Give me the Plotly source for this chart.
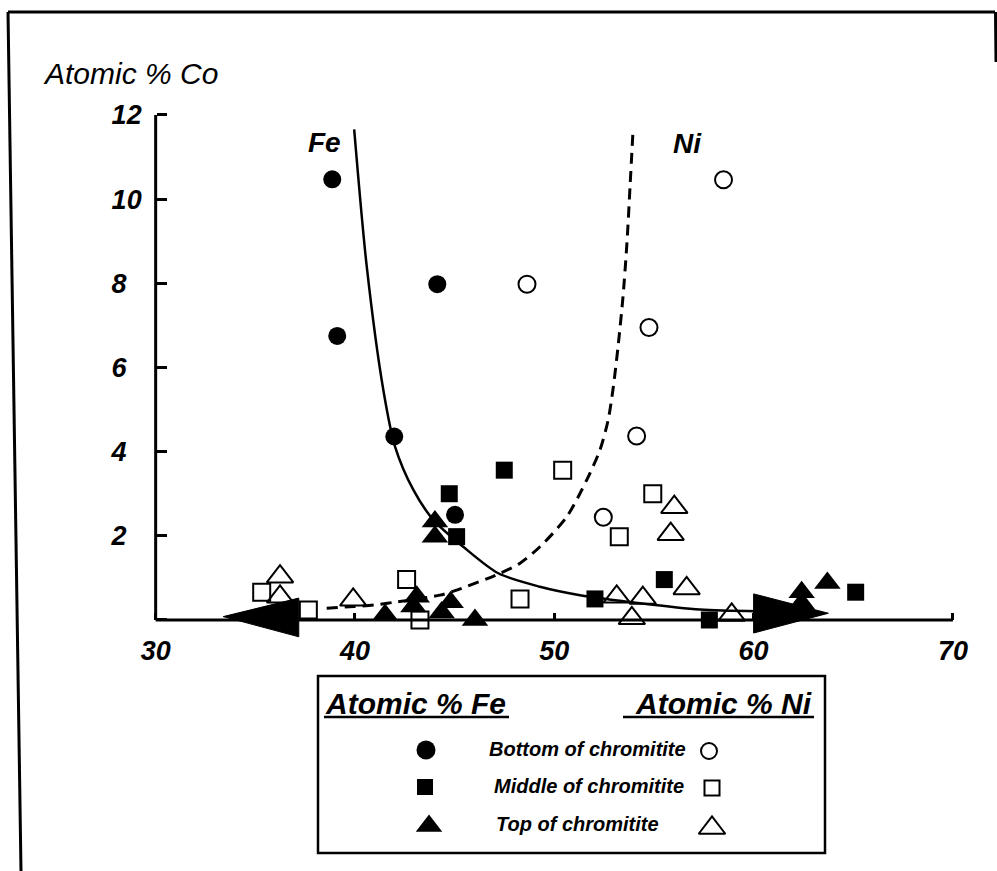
import plotly.graph_objects as go

W, H = 997, 871

# ---- Atomic % Co against atomic % Fe (filled) and atomic % Ni (open) ----
bottom_fe_x = [38.86, 39.11, 44.13, 41.97, 45.02]
bottom_fe_co = [10.47, 6.75, 7.98, 4.36, 2.50]
bottom_ni_x = [58.49, 48.63, 54.75, 54.13, 52.46]
bottom_ni_co = [10.46, 7.98, 6.95, 4.37, 2.44]

middle_fe_x = [44.73, 45.10, 47.49, 52.04, 55.52, 57.78, 65.12]
middle_fe_co = [3.00, 1.98, 3.56, 0.50, 0.96, 0.00, 0.66]
middle_ni_x = [54.94, 53.26, 50.42, 48.28, 42.59, 43.26, 35.32, 37.66]
middle_ni_co = [3.00, 1.98, 3.56, 0.50, 0.96, 0.00, 0.66, 0.24]

top_fe_x = [44.01, 44.01, 41.51, 43.10, 42.93, 44.35, 44.80, 46.02, 62.41, 62.41, 63.70]
top_fe_co = [2.34, 1.98, 0.12, 0.55, 0.32, 0.18, 0.42, 0.00, 0.66, 0.40, 0.88]
top_ni_x = [36.24, 36.24, 39.91, 56.02, 55.84, 56.64, 53.13, 54.44, 53.89, 58.90]
top_ni_co = [1.03, 0.55, 0.48, 2.68, 2.04, 0.75, 0.55, 0.52, 0.04, 0.12]

# trend curves (hand-drawn through the Fe and Ni clouds)
fe_curve_x = [39.96, 40.59, 41.42, 42.01, 42.93, 43.93, 45.43, 47.19, 49.28, 51.29, 54.30, 57.31, 60.17]
fe_curve_co = [11.66, 8.40, 5.47, 4.12, 3.09, 2.38, 1.74, 1.11, 0.79, 0.59, 0.40, 0.25, 0.21]
ni_curve_x = [38.58, 39.95, 41.00, 42.09, 44.26, 45.10, 47.28, 48.28, 49.28, 50.62, 51.63,
              52.29, 52.70, 52.95, 53.20, 53.45, 53.65, 53.80, 53.95]
ni_curve_co = [0.28, 0.32, 0.36, 0.43, 0.59, 0.71, 1.11, 1.35, 1.74, 2.45, 3.33,
               4.04, 4.75, 5.50, 6.50, 7.70, 9.00, 10.30, 11.63]

# arrowheads at the low-Co ends of the trends
left_arrow_x = [33.39, 37.18, 37.18, 33.39]
left_arrow_co = [0.08, 0.52, -0.40, 0.08]
right_arrow_x = [63.75, 60.00, 60.00, 63.75]
right_arrow_co = [0.16, 0.62, -0.31, 0.16]

x_ticks = [30, 40, 50, 60, 70]
y_ticks = [0, 2, 4, 6, 8, 10, 12]
y_ticktext = ["", "2\u2007", "4\u2007", "6\u2007", "8\u2007", "10", "12"]

FONT = "Liberation Sans"
BLACK = "#000000"

# plot area geometry (pixels)
X_RANGE = [28, 72]
Y_RANGE = [-1.5, 13]
px_left, px_right = 115.8, 992.8
px_bottom, px_top = 683.1, 72.9
x_dom = [px_left / W, px_right / W]
y_dom = [1 - px_bottom / H, 1 - px_top / H]
x_axis_pos = y_dom[0] + (0 - Y_RANGE[0]) / (Y_RANGE[1] - Y_RANGE[0]) * (y_dom[1] - y_dom[0])
y_axis_pos = x_dom[0] + (30 - X_RANGE[0]) / (X_RANGE[1] - X_RANGE[0]) * (x_dom[1] - x_dom[0])

fig = go.Figure()

# curves
fig.add_trace(go.Scatter(x=fe_curve_x, y=fe_curve_co, mode="lines",
                         line=dict(color=BLACK, width=2.5, shape="spline", smoothing=0.8),
                         hoverinfo="skip"))
fig.add_trace(go.Scatter(x=ni_curve_x, y=ni_curve_co, mode="lines",
                         line=dict(color=BLACK, width=3, shape="spline", smoothing=0.8,
                                   dash="11px,7px"),
                         hoverinfo="skip"))
for ax_, ay_ in ((left_arrow_x, left_arrow_co), (right_arrow_x, right_arrow_co)):
    fig.add_trace(go.Scatter(x=ax_, y=ay_, mode="lines", fill="toself",
                             fillcolor=BLACK, line=dict(color=BLACK, width=1),
                             hoverinfo="skip"))


def pts(x, y, symbol, size, name, open_=False):
    marker = dict(symbol=symbol, size=size, color=BLACK)
    marker["line"] = dict(color=BLACK, width=2 if open_ else 0)
    return go.Scatter(x=x, y=y, mode="markers", marker=marker, name=name,
                      cliponaxis=False)


fig.add_trace(pts(bottom_fe_x, bottom_fe_co, "circle", 18, "Bottom Fe"))
fig.add_trace(pts(bottom_ni_x, bottom_ni_co, "circle-open", 17, "Bottom Ni", True))
fig.add_trace(pts(middle_fe_x, middle_fe_co, "square", 17, "Middle Fe"))
fig.add_trace(pts(middle_ni_x, middle_ni_co, "square-open", 17, "Middle Ni", True))
fig.add_trace(pts(top_fe_x, top_fe_co, "triangle-up", 23, "Top Fe"))
fig.add_trace(pts(top_ni_x, top_ni_co, "triangle-up-open", 23, "Top Ni", True))

# key symbols (pixel-space overlay axes)
key = [
    (426, 750, "circle", 19, False), (425, 787, "square", 16, False),
    (429, 826, "triangle-up", 23, False), (709, 751, "circle-open", 16, True),
    (712, 788, "square-open", 15, True), (712, 828, "triangle-up-open", 23, True),
]
for kx, ky, sym, sz, op in key:
    fig.add_trace(go.Scatter(x=[kx], y=[ky], mode="markers", xaxis="x2", yaxis="y2",
                             marker=dict(symbol=sym, size=sz, color=BLACK,
                                         line=dict(color=BLACK, width=2 if op else 0)),
                             hoverinfo="skip"))

tickfont = dict(family=FONT, size=27, color=BLACK, style="italic", weight="bold")

fig.update_layout(
    width=W, height=H, margin=dict(l=0, r=0, t=0, b=0),
    paper_bgcolor="white", plot_bgcolor="rgba(0,0,0,0)", showlegend=False,
    xaxis=dict(domain=x_dom, range=X_RANGE, anchor="free", position=x_axis_pos,
               tickvals=x_ticks, ticktext=[str(v) for v in x_ticks],
               ticks="inside", ticklen=7, tickwidth=2.5, tickcolor=BLACK,
               showline=False, showgrid=False, zeroline=False, tickfont=tickfont,
               ticklabelstandoff=12),
    yaxis=dict(domain=y_dom, range=Y_RANGE, anchor="free", position=y_axis_pos,
               tickvals=y_ticks, ticktext=y_ticktext,
               ticks="inside", ticklen=10, tickwidth=2.5, tickcolor=BLACK,
               showline=False, showgrid=False, zeroline=False, tickfont=tickfont,
               ticklabelstandoff=14),
    xaxis2=dict(domain=[0, 1], range=[0, W], visible=False, anchor="y2", fixedrange=True),
    yaxis2=dict(domain=[0, 1], range=[H, 0], visible=False, anchor="x2", fixedrange=True),
)

# axis lines
fig.add_shape(type="line", xref="x", yref="y", x0=30, y0=0, x1=70, y1=0,
              line=dict(color=BLACK, width=3))
fig.add_shape(type="line", xref="x", yref="y", x0=30, y0=0, x1=30, y1=12,
              line=dict(color=BLACK, width=3))

# outer frame, key box and header underlines (pixel space)
for x0, y0, x1, y1, w in [(8, 12, 995, 12, 3), (8, 12, 21, 871, 3), (995.5, 12, 996, 62, 3),
                          (324, 717, 509, 717, 2.5), (623, 717, 814, 717, 2.5)]:
    fig.add_shape(type="line", xref="x2", yref="y2", x0=x0, y0=y0, x1=x1, y1=y1,
                  line=dict(color=BLACK, width=w))
fig.add_shape(type="rect", xref="x2", yref="y2", x0=318, y0=676, x1=825, y1=853,
              line=dict(color=BLACK, width=2.5))


def label(text, x, y, size, xanchor="center", weight="bold"):
    fig.add_annotation(text=text, x=x, y=y, xref="x2", yref="y2", showarrow=False,
                       xanchor=xanchor, yanchor="middle",
                       font=dict(family=FONT, size=size, color=BLACK, style="italic",
                                 weight=weight))


label("Atomic % Co", 41, 73, 30, xanchor="left", weight="normal")
label("Fe", 324, 142, 28)
label("Ni", 687, 143, 28)
label("Atomic % Fe", 323, 703, 30, xanchor="left")
label("Atomic % Ni", 814, 703, 30, xanchor="right")
label("Bottom of chromitite", 487, 749, 20, xanchor="left")
label("Middle of chromitite", 492, 786, 20, xanchor="left")
label("Top of chromitite", 494, 824, 20, xanchor="left")

fig.write_html("out.html")
